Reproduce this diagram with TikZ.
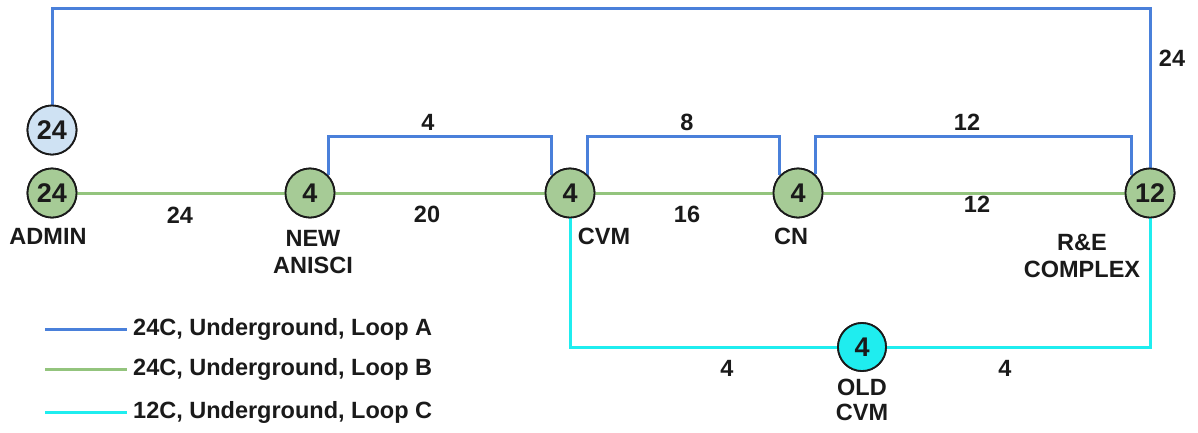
\documentclass[tikz,border=0pt]{standalone}
\usepackage{fontspec}
\setmainfont{Liberation Sans}
\definecolor{lA}{HTML}{4A80DA}
\definecolor{lB}{HTML}{93C47D}
\definecolor{lC}{HTML}{1FEDEF}
\definecolor{ngreen}{HTML}{A6CB96}
\definecolor{nblue}{HTML}{CFE2F3}
\definecolor{ncyan}{HTML}{1FEDEF}
\definecolor{ink}{HTML}{1A1A1A}
\begin{document}
\begin{tikzpicture}[x=1pt,y=-1pt,
  stn/.style={circle, draw=ink, line width=1.8pt, minimum size=49pt, inner sep=0pt, text=ink,
    font=\fontsize{27}{29}\selectfont\bfseries},
  gstn/.style={stn, fill=ngreen},
  lab/.style={inner sep=0pt, text=ink, font=\fontsize{23.5}{27}\selectfont\bfseries},
  stname/.style={inner sep=0pt, text=ink, align=center, font=\fontsize{23.5}{27.5}\selectfont\bfseries},
  loopA/.style={draw=lA, line width=3pt},
  loopB/.style={draw=lB, line width=3pt},
  loopC/.style={draw=lC, line width=3pt}
]
\useasboundingbox (0,0) rectangle (1198,432);
\fill[white] (0,0) rectangle (1198,432);

% guide coordinates
\coordinate (ytop) at (0,8);
\coordinate (ymid) at (0,136);

% nodes (for anchors)
\node[stn, fill=nblue] (adminA) at (52,130) {24};
\node[gstn] (admin) at (52,193) {24};
\node[gstn] (anisci) at (310,193) {4};
\node[gstn] (cvm) at (570,193) {4};
\node[gstn] (cn) at (798,193) {4};
\node[gstn] (re) at (1150,193) {12};
\node[stn, fill=ncyan, minimum size=48pt] (old) at (862,347) {4};

% Loop A
\draw[loopA] (adminA.north) -- (adminA.north |- ytop) -| (re.north);
\draw[loopA] (anisci.44) -- (anisci.44 |- ymid) -| (cvm.136);
\draw[loopA] (cvm.45) -- (cvm.45 |- ymid) -| (cn.136);
\draw[loopA] (cn.48) -- (cn.48 |- ymid) -| (re.136);
% Loop B
\draw[loopB] (admin) -- (anisci) -- (cvm) -- (cn) -- (re);
% Loop C
\draw[loopC] (cvm.south) |- (old.west);
\draw[loopC] (old.east) -| (re.south);

% redraw nodes on top
\node[stn, fill=nblue] at (adminA) {24};
\node[gstn] at (admin) {24};
\node[gstn] at (anisci) {4};
\node[gstn] at (cvm) {4};
\node[gstn] at (cn) {4};
\node[gstn] at (re) {12};
\node[stn, fill=ncyan, minimum size=48pt] at (old) {4};

% edge labels
\node[lab] (eA) at (1172,58) {24};
\node[lab] (e1) at (428,122) {4};
\node[lab] (e2) at (687,122) {8};
\node[lab] (e3) at (967,122) {12};
\node[lab] (b1) at (180,215) {24};
\node[lab] (b2) at (427,214) {20};
\node[lab] (b3) at (687,214) {16};
\node[lab] (b4) at (977,204) {12};
\node[lab] (c1) at (727,368) {4};
\node[lab] (c2) at (1005,368) {4};

% station names
\node[stname] (nAdmin) at (48,236) {ADMIN};
\node[stname] (nAnisci) at (313,252) {NEW\\ANISCI};
\node[stname] (nCvm) at (604,236) {CVM};
\node[stname] (nCn) at (791,236) {CN};
\node[stname] (nRe) at (1082,256) {R\&E\\COMPLEX};
\node[stname, font=\fontsize{23.5}{25}\selectfont\bfseries] (nOld) at (862,400) {OLD\\CVM};

% legend
\coordinate (la1) at (45,329); \coordinate (la2) at (127,329);
\coordinate (lb1) at (45,369); \coordinate (lb2) at (127,369);
\coordinate (lc1) at (45,412); \coordinate (lc2) at (127,412);
\draw[loopA] (la1) -- (la2);
\draw[loopB] (lb1) -- (lb2);
\draw[loopC] (lc1) -- (lc2);
\node[lab, anchor=west] (ta) at (133,329) {24C, Underground, Loop A};
\node[lab, anchor=west] (tb) at (133,369) {24C, Underground, Loop B};
\node[lab, anchor=west] (tc) at (133,412) {12C, Underground, Loop C};
\end{tikzpicture}
\end{document}
